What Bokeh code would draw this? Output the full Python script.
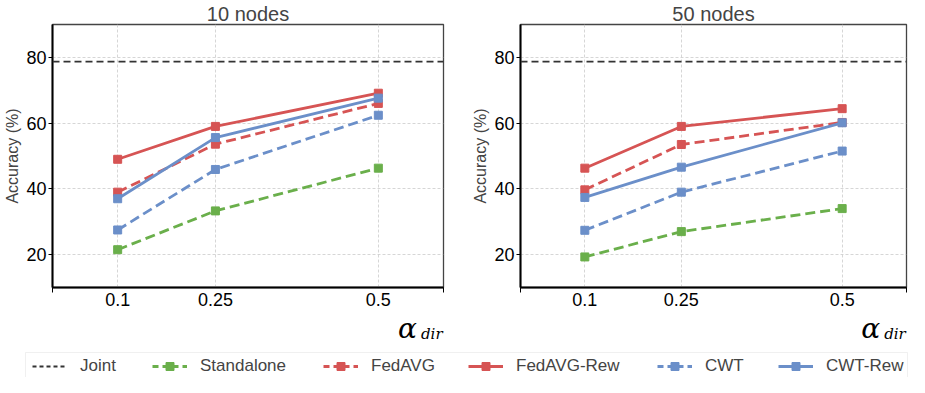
from bokeh.plotting import figure
from bokeh.layouts import column, row
from bokeh.models import (FixedTicker, Span, Legend, LegendItem, Range1d, LinearAxis,
                          BoxAnnotation)
from bokeh.embed import file_html
from bokeh.resources import INLINE

# ---- data ----
alpha_dir = [0.1, 0.25, 0.5]
x_tick_labels = ["0.1", "0.25", "0.5"]
y_ticks = [20, 40, 60, 80]

joint_10 = 78.7
standalone_10 = [21.5, 33.3, 46.3]
fedavg_10 = [39.0, 53.6, 66.0]
fedavg_rew_10 = [49.0, 59.0, 69.1]
cwt_10 = [27.5, 45.9, 62.4]
cwt_rew_10 = [37.0, 55.6, 67.6]

joint_50 = 78.7
standalone_50 = [19.3, 27.0, 34.0]
fedavg_50 = [39.7, 53.5, 60.2]
fedavg_rew_50 = [46.3, 59.0, 64.4]
cwt_50 = [27.4, 39.0, 51.5]
cwt_rew_50 = [37.4, 46.6, 60.1]

series_names = ["Standalone", "FedAVG", "FedAVG-Rew", "CWT", "CWT-Rew"]

# ---- styles ----
GREEN = "#6aaf4b"
RED = "#d65454"
BLUE = "#6b8fc9"
styles = {
    "Standalone": dict(color=GREEN, dash="10 5"),
    "FedAVG": dict(color=RED, dash="10 5"),
    "FedAVG-Rew": dict(color=RED, dash="solid"),
    "CWT": dict(color=BLUE, dash="10 5"),
    "CWT-Rew": dict(color=BLUE, dash="solid"),
}
FONT = "Liberation Sans"
X_END = 0.6
PH = 347  # plot height
LH = 30   # legend strip height


def make_plot(title, joint, values, width, left, right):
    p = figure(width=width, height=PH, x_range=Range1d(0, X_END), y_range=Range1d(10, 90),
               output_backend="svg", toolbar_location=None, title=title,
               min_border_left=left, min_border_right=right, min_border_top=23,
               min_border_bottom=60)
    p.title.text_font = FONT
    p.title.text_font_size = "20px"
    p.title.text_font_style = "normal"
    p.title.align = "center"
    p.title.standoff = 0

    p.xaxis.ticker = FixedTicker(ticks=alpha_dir, minor_ticks=[0.0, X_END])
    p.xaxis.major_label_overrides = {v: t for v, t in zip(alpha_dir, x_tick_labels)}
    p.xaxis.major_tick_out = 0
    p.xaxis.major_tick_in = 0
    p.xaxis.minor_tick_out = 5
    p.xaxis.minor_tick_in = 0
    p.xaxis.minor_tick_line_color = "black"
    p.xaxis.major_label_standoff = 0

    p.yaxis.ticker = FixedTicker(ticks=y_ticks)
    p.yaxis.minor_tick_line_color = None
    p.yaxis.major_tick_out = 4
    p.yaxis.major_tick_in = 0
    p.yaxis.major_label_standoff = 2
    p.yaxis.axis_label = "Accuracy (%)"
    p.yaxis.axis_label_text_font = FONT
    p.yaxis.axis_label_text_font_size = "16px"
    p.yaxis.axis_label_text_font_style = "normal"
    p.yaxis.axis_label_standoff = 2

    for ax in (p.xaxis, p.yaxis):
        ax.axis_line_width = 2
        ax.axis_line_color = "black"
        ax.major_tick_line_color = "black"
        ax.major_label_text_font = FONT
        ax.major_label_text_font_size = "18px"
        ax.major_label_text_color = "black"

    p.xgrid.ticker = FixedTicker(ticks=alpha_dir)
    p.grid.grid_line_color = "#cccccc"
    p.grid.grid_line_dash = "3 2"
    p.grid.grid_line_width = 0.8
    p.outline_line_color = "#444444"
    p.outline_line_width = 1.3

    p.add_layout(Span(location=joint, dimension="width", line_color="#333333",
                      line_dash="7 4", line_width=1.8))

    for name in series_names:
        st = styles[name]
        p.line(alpha_dir, values[name], line_color=st["color"], line_dash=st["dash"],
               line_width=2.8)
        p.scatter(alpha_dir, values[name], marker="square", size=8,
                  fill_color=st["color"], line_color=st["color"])

    # x-axis label "alpha_dir" at the right end, drawn as two extra label-only axes
    a_pos = X_END - 0.0555
    d_pos = X_END - 0.018
    ax_a = LinearAxis(ticker=FixedTicker(ticks=[a_pos]),
                      major_label_overrides={a_pos: "α"})
    ax_d = LinearAxis(ticker=FixedTicker(ticks=[d_pos]),
                      major_label_overrides={d_pos: "dir"})
    for ax, size, standoff in ((ax_a, "28px", -3), (ax_d, "15px", -29)):
        ax.axis_line_color = None
        ax.major_tick_line_color = None
        ax.minor_tick_line_color = None
        ax.major_label_text_font = "DejaVu Serif"
        ax.major_label_text_font_style = "italic"
        ax.major_label_text_font_size = size
        ax.major_label_text_color = "black"
        ax.major_label_standoff = standoff
        p.add_layout(ax, "below")
    return p


vals10 = dict(zip(series_names, [standalone_10, fedavg_10, fedavg_rew_10, cwt_10, cwt_rew_10]))
vals50 = dict(zip(series_names, [standalone_50, fedavg_50, fedavg_rew_50, cwt_50, cwt_rew_50]))

p1 = make_plot("10 nodes", joint_10, vals10, 458, 52, 15)
p2 = make_plot("50 nodes", joint_50, vals50, 451, 62, 3)

# ---- legend strip (data units == pixels) ----
LW = 909
leg = figure(width=LW, height=LH, output_backend="svg", toolbar_location=None,
             x_axis_type=None, y_axis_type=None, min_border=0,
             x_range=Range1d(0, LW), y_range=Range1d(0, LH))
leg.outline_line_color = None
leg.add_layout(BoxAnnotation(left=25, right=LW - 2, bottom=-3, top=25, fill_color="white",
                             fill_alpha=1, line_color="#cccccc", line_width=1))

off = [-100, -90]
entries = []
r = leg.line(x=off, y=off, line_color="#333333", line_dash="4 3", line_width=1.8)
entries.append(("Joint", [r]))
for name in series_names:
    st = styles[name]
    dash = "6 4" if st["dash"] != "solid" else "solid"
    rl = leg.line(x=off, y=off, line_color=st["color"], line_dash=dash, line_width=2.8)
    rs = leg.scatter(x=off, y=off, marker="square", size=7, fill_color=st["color"],
                     line_color=st["color"])
    entries.append((name, [rl, rs]))

item_x = [32, 152, 323, 468, 657, 778]
for (label, rends), x in zip(entries, item_x):
    lg = Legend(items=[LegendItem(label=label, renderers=rends)], location=(x, 1),
                glyph_width=35, glyph_height=20, label_standoff=13, padding=0, margin=0,
                border_line_color=None, background_fill_alpha=0,
                label_text_font=FONT, label_text_font_size="17px")
    leg.add_layout(lg, "center")

layout = column(row(p1, p2), leg)
open("out.html", "w").write(file_html(layout, INLINE))
